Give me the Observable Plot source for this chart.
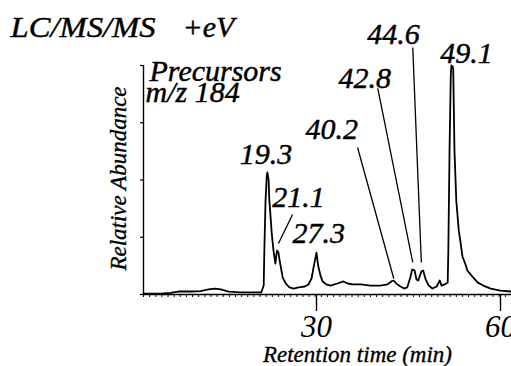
<!DOCTYPE html>
<html>
<head>
<meta charset="utf-8">
<script src="https://cdn.jsdelivr.net/npm/d3@7"></script>
<script src="https://cdn.jsdelivr.net/npm/@observablehq/plot@0.6"></script>
<style>
  html, body { margin: 0; padding: 0; background: #fff; }
  #chart svg { display: block; }
</style>
</head>
<body>
<div id="chart"></div>
<script>
// Chromatogram trace (retention time in min, relative abundance %)
const time = [0, 1.1, 2.8, 4.4, 5.7, 7.7, 9.3, 10.6, 11.7, 12.6, 13.9, 15.8, 18.3, 19.2, 19.6, 19.7, 19.9, 20.1, 20.2, 20.4, 20.5, 20.9, 21.2, 21.5, 21.7, 21.8, 22.0, 22.2, 22.7, 23.2, 23.8, 24.5, 25.3, 26.3, 26.9, 27.4, 27.7, 28.2, 28.5, 28.9, 29.2, 29.8, 30.5, 31.6, 32.6, 33.3, 34.1, 35.4, 37.0, 38.6, 39.8, 40.4, 40.8, 41.2, 41.9, 42.5, 43.0, 43.5, 43.8, 44.2, 44.5, 44.8, 45.3, 45.6, 46.0, 46.5, 47.1, 47.8, 48.3, 48.6, 49.1, 49.6, 49.7, 49.9, 50.1, 50.2, 50.4, 50.5, 50.7, 51.0, 51.4, 51.7, 52.0, 52.5, 52.8, 53.6, 54.5, 55.4, 56.6, 58.2, 60.0];
const intensity = [0.4, 0.4, 0.4, 0.7, 1.3, 1.3, 1.5, 2.2, 2.6, 2.2, 1.3, 0.9, 0.9, 0.9, 3.9, 19, 41, 52, 53.3, 50, 42, 27, 19, 13.5, 18, 19.2, 18.3, 14.8, 7.4, 4.8, 3.1, 2.6, 3.1, 3.5, 4.4, 7, 11.4, 18.3, 12.2, 7.9, 5.7, 4.4, 3.9, 4.8, 5.7, 4.8, 4.4, 4.4, 3.9, 3.9, 4.4, 5.7, 6.1, 4.8, 3.5, 2.6, 3.1, 7.4, 10.9, 10.5, 6.6, 6.1, 10, 10.5, 6.6, 3.9, 2.6, 3.5, 6.1, 3.9, 4.4, 5.2, 19, 63, 95.6, 100, 99.6, 98.5, 63, 41, 28, 22.7, 16.6, 13.1, 10.5, 7.9, 5.2, 3.9, 2.6, 1.7, 1.3];

// Peak annotations
const peakLabels = ["19.3", "21.1", "27.3", "40.2", "42.8", "44.6", "49.1"];
const labelTime  = [15.7, 21.0, 24.3, 26.4, 31.8, 36.5, 48.4];
const labelLevel = [57.2, 38.4, 22.3, 68.1, 90.0, 109.6, 101.3];

// Leader lines (from label to peak)
const leaderFromTime  = [22.0, 34.9, 38.2, 43.9];
const leaderFromLevel = [22.3, 64.2, 90.0, 107.9];
const leaderToTime    = [24.3, 40.8, 43.9, 45.3];
const leaderToLevel   = [34.9, 7.0, 14.0, 14.0];

// Axis ticks
const yTicks = [0, 25, 50, 75, 100];
const xMinorTicks = d3.range(0, 61, 1);
const xMajorTicks = [30, 60];

const trace = time.map((t, i) => ({t, v: intensity[i]}));
const labels = peakLabels.map((s, i) => ({s, t: labelTime[i], v: labelLevel[i]}));
const leaders = leaderFromTime.map((t, i) => ({x1: t, y1: leaderFromLevel[i], x2: leaderToTime[i], y2: leaderToLevel[i]}));

const serif = "Liberation Serif";
const txt = {fontFamily: serif, fontStyle: "italic", fill: "#000", stroke: "#000", strokeWidth: 0.45};

const chart = Plot.plot({
  width: 511,
  height: 366,
  marginLeft: 143,
  marginRight: 0,
  marginTop: 65,
  marginBottom: 72,
  style: {color: "#000", background: "#fff", overflow: "hidden"},
  x: {domain: [0, 60], label: null},
  y: {domain: [0, 100], label: null},
  marks: [
    Plot.axisY({ticks: yTicks, tickSize: 3, tickFormat: () => "", stroke: "#000", strokeWidth: 1.2}),
    Plot.axisX({ticks: xMinorTicks, tickSize: 3, tickFormat: () => "", stroke: "#000", strokeWidth: 1}),
    Plot.axisX({ticks: xMajorTicks, tickSize: 17, tickPadding: 3, tickFormat: d => String(d), fontSize: 31, dx: -11, stroke: "#000", strokeWidth: 1.4, fontFamily: serif, fontStyle: "italic", fill: "#000"}),
    Plot.ruleX([0], {y1: 0, y2: 100, stroke: "#000", strokeWidth: 1.4}),
    Plot.ruleY([0], {stroke: "#000", strokeWidth: 1.4}),
    Plot.line(trace, {x: "t", y: "v", stroke: "#000", strokeWidth: 1.8, strokeLinejoin: "round"}),
    Plot.link(leaders, {x1: "x1", y1: "y1", x2: "x2", y2: "y2", stroke: "#000", strokeWidth: 1.3}),
    Plot.text(labels, {x: "t", y: "v", text: "s", textAnchor: "start", lineAnchor: "bottom", fontSize: 30, ...txt}),
    Plot.text(["LC/MS/MS"], {frameAnchor: "top-left", dx: -133, dy: -29, textAnchor: "start", lineAnchor: "bottom", fontSize: 30, ...txt}),
    Plot.text(["+eV"], {frameAnchor: "top-left", dx: 39, dy: -29, textAnchor: "start", lineAnchor: "bottom", fontSize: 30, ...txt}),
    Plot.text(["Precursors"], {frameAnchor: "top-left", dx: 6, dy: 15, textAnchor: "start", lineAnchor: "bottom", fontSize: 30, ...txt}),
    Plot.text(["m/z 184"], {frameAnchor: "top-left", dx: 2, dy: 36, textAnchor: "start", lineAnchor: "bottom", fontSize: 30, ...txt}),
    Plot.text(["Retention time (min)"], {frameAnchor: "top-left", dx: 214, dy: 296, textAnchor: "middle", lineAnchor: "bottom", fontSize: 23, ...txt, strokeWidth: 0.35}),
    Plot.text(["Relative Abundance"], {frameAnchor: "top-left", dx: -18, dy: 113, rotate: -90, textAnchor: "middle", lineAnchor: "bottom", fontSize: 23, ...txt, strokeWidth: 0.35})
  ]
});
chart.querySelectorAll("text").forEach(el => {
  if (el.textContent === "LC/MS/MS") {
    el.setAttribute("textLength", "145");
    el.setAttribute("lengthAdjust", "spacingAndGlyphs");
  }
});
document.getElementById("chart").appendChild(chart);
</script>
</body>
</html>
